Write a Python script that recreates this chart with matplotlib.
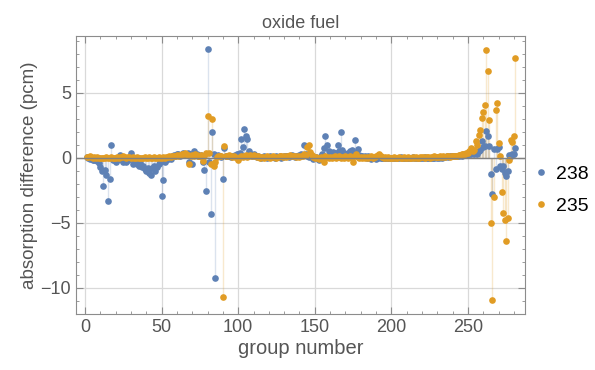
import numpy as np
import matplotlib
matplotlib.use('Agg')
import matplotlib.pyplot as plt
from matplotlib.ticker import MultipleLocator

plt.rcParams['font.family'] = ['Liberation Sans', 'DejaVu Sans']

# absorption difference (pcm) per group, groups 1..281
u238 = [
    0.05, -0.05, -0.1, -0.05, -0.15, -0.2, -0.1, -0.25, -0.4, -0.7,
    -1.05, -2.2, -0.92, -1.36, -3.3, -1.6, 1.0, -0.2, -0.1, -0.3,
    -0.15, -0.05, 0.2, -0.2, -0.3, -0.1, -0.35, -0.2, -0.05, 0.36,
    -0.5, -0.2, -0.3, -0.45, -0.6, -0.4, -0.7, -0.6, -0.9, -1.0,
    -0.8, -1.2, -1.36, -0.8, -0.6, -1.0, -0.7, -0.5, -0.3, -2.97,
    -1.7, -0.3, -0.2, -0.1, 0.05, -0.1, 0.1, 0.2, 0.1, 0.25,
    0.3, 0.15, 0.2, 0.4, 0.3, 0.2, 0.35, -0.3, 0.3, -0.5,
    0.5, 0.2, 0.3, 0.1, 0.15, 0.2, -0.3, -0.92, -2.54, 8.4,
    -0.3, -4.33, 2.0, 0.3, -9.23, 0.1, 0.2, 0.1, 0.05, -1.64,
    0.74, 0.1, 0.15, 0.1, 0.05, 0.1, 0.15, 0.2, 0.25, 0.3,
    0.38, 1.43, 0.8, 2.2, 1.7, 1.43, 0.5, 0.3, 0.15, 0.3,
    0.1, 0.05, 0.1, 0.05, 0.0, 0.05, 0.1, 0.05, 0.0, 0.05,
    0.1, 0.05, 0.05, 0.0, 0.1, 0.05, 0.1, 0.0, 0.05, 0.1,
    0.15, 0.1, 0.05, 0.1, 0.2, 0.1, 0.05, 0.1, 0.15, 0.2,
    0.3, 0.2, 1.0, 0.3, 0.1, 0.05, 0.1, 0.05, -0.1, -0.05,
    0.05, -0.1, -0.15, 0.1, 0.3, 0.74, 1.69, 1.0, 0.5, 0.3,
    0.2, 0.45, 0.3, 0.4, 0.95, 0.5, 1.95, 0.6, 0.4, 0.3,
    0.2, 0.4, 0.5, 0.6, 0.3, 1.38, 0.4, 0.65, 0.2, 0.15,
    0.1, 0.05, 0.1, -0.05, 0.1, 0.05, -0.1, 0.0, -0.05, -0.1,
    0.0, 0.05, -0.05, 0.0, -0.05, 0.0, 0.0, -0.05, 0.0, 0.0,
    0.0, 0.0, -0.05, 0.0, 0.0, 0.05, 0.0, 0.0, 0.0, -0.05,
    0.0, 0.0, 0.0, 0.05, 0.0, 0.0, -0.05, 0.0, 0.0, 0.0,
    0.0, 0.05, 0.0, 0.0, 0.0, -0.05, 0.0, 0.0, 0.05, 0.0,
    0.0, 0.05, 0.0, 0.05, 0.05, 0.1, 0.05, 0.1, 0.1, 0.15,
    0.1, 0.15, 0.1, 0.15, 0.2, 0.15, 0.2, 0.2, 0.25, 0.3,
    0.25, 0.3, 0.35, 0.3, 0.4, 0.3, 0.5, 0.6, 1.26, 0.8,
    0.87, 2.08, 1.69, 0.92, -1.23, -2.8, 0.7, -0.87, 0.7, 0.8,
    -0.6, -0.9, -0.6, -1.18, -1.44, -1.0, 0.2, 0.15, 0.3, 0.25,
    0.74,
]

u235 = [
    0.05, 0.05, 0.1, 0.05, 0.0, 0.05, 0.0, 0.05, 0.0, 0.0,
    0.0, -0.05, 0.0, 0.05, 0.0, 0.0, 0.05, 0.0, -0.05, 0.0,
    0.05, 0.0, 0.05, 0.05, 0.1, 0.05, 0.0, 0.05, 0.05, 0.0,
    0.05, 0.0, 0.0, 0.05, 0.0, -0.05, 0.0, 0.0, 0.05, 0.0,
    0.0, 0.05, 0.0, 0.0, 0.05, 0.0, 0.0, 0.05, 0.0, 0.0,
    0.05, 0.0, 0.05, 0.05, 0.1, 0.05, 0.1, 0.1, 0.15, 0.2,
    0.1, 0.2, 0.3, 0.25, 0.4, 0.3, 0.2, -0.5, 0.15, 0.2,
    0.1, 0.3, 0.2, 0.15, 0.1, 0.2, -0.28, 0.1, 0.4, 3.23,
    0.4, -0.5, 2.97, -0.6, -0.3, 0.05, 0.1, 0.15, 0.1, -10.7,
    0.87, 0.1, 0.15, 0.2, 0.1, 0.05, 0.1, 0.05, 0.0, -0.2,
    0.05, 0.1, 0.05, 0.1, 0.2, 0.05, 0.1, 0.2, 0.1, 0.2,
    0.1, 0.05, 0.1, 0.0, 0.05, 0.05, 0.0, 0.05, 0.1, 0.05,
    0.0, 0.05, 0.1, 0.05, 0.0, 0.05, 0.1, 0.15, 0.05, 0.1,
    0.05, 0.1, 0.15, 0.2, 0.1, 0.15, 0.1, 0.05, 0.1, 0.05,
    0.1, 0.15, 0.3, 0.2, 0.85, 1.0, 0.45, 0.2, 0.05, 0.0,
    0.05, 0.0, -0.1, 0.05, 0.0, -0.3, 0.1, 0.05, 0.0, 0.05,
    0.0, 0.05, 0.1, 0.0, 0.05, 0.1, 0.0, 0.05, 0.0, 0.1,
    0.05, 0.0, 0.1, 0.05, -0.3, 0.1, 0.3, 0.05, 0.0, 0.05,
    0.0, 0.05, 0.0, 0.05, 0.0, 0.05, 0.1, 0.0, 0.05, 0.1,
    0.2, 0.3, 0.1, 0.05, 0.0, 0.05, 0.0, 0.05, 0.0, 0.0,
    0.0, 0.05, 0.0, 0.0, 0.05, 0.0, 0.0, 0.05, 0.0, 0.0,
    0.05, 0.0, 0.0, 0.05, 0.0, 0.05, 0.0, 0.0, 0.05, 0.05,
    0.05, 0.0, 0.05, 0.05, 0.0, 0.05, 0.05, 0.1, 0.05, 0.05,
    0.05, 0.1, 0.05, 0.1, 0.05, 0.1, 0.1, 0.05, 0.1, 0.1,
    0.1, 0.15, 0.1, 0.2, 0.2, 0.25, 0.3, 0.3, 0.35, 0.4,
    0.5, 0.74, 0.5, 0.6, 1.31, 1.0, 1.77, 2.15, 3.08, 3.49,
    4.05, 8.26, 6.64, 2.87, -5.03, -10.97, -3.03, 3.69, 4.2, 1.13,
    0.15, -2.67, -4.28, -4.77, -6.44, -4.64, -0.2, 1.38, 1.18, 1.69,
    7.69,
]

series_names = ['238', '235']
series_vals = [u238, u235]
series_colors = ['#5E81B5', '#E19C24']

fig = plt.figure(figsize=(5.95, 3.7), dpi=100)
ax = fig.add_axes([0.1277, 0.1505, 0.7553, 0.7515])

for name, vals, col in zip(series_names, series_vals, series_colors):
    g = np.arange(1, len(vals) + 1)
    ax.vlines(g, 0, vals, color=col, alpha=0.22, lw=1.0, zorder=2)
    ax.plot(g, vals, 'o', color=col, ms=4.8, mec='none', label=name, zorder=3)

ax.axhline(0, color='#808080', lw=1.0, zorder=4)

ax.set_xlim(-5.9, 287.5)
ax.set_ylim(-12.05, 9.35)
ax.xaxis.set_major_locator(MultipleLocator(50))
ax.xaxis.set_minor_locator(MultipleLocator(10))
ax.yaxis.set_major_locator(MultipleLocator(5))
ax.yaxis.set_minor_locator(MultipleLocator(1))
ax.grid(True, which='major', color='#d9d9d9', lw=0.9, zorder=0)
ax.set_axisbelow(True)

ax.tick_params(which='both', direction='in', top=True, right=True,
               color='#8c8c8c', labelcolor='#555555', labelsize=13)
ax.tick_params(which='major', length=5, width=0.8)
ax.tick_params(which='minor', length=2.5, width=0.6)
ax.set_yticks([-10, -5, 0, 5])
ax.set_yticklabels(['\u221210', '\u22125', '0', '5'])
for s in ax.spines.values():
    s.set_color('#8c8c8c')

ax.set_title('oxide fuel', color='#555555', fontsize=13, pad=6)
ax.set_xlabel('group number', color='#555555', fontsize=14.5, labelpad=2)
ax.set_ylabel('absorption difference (pcm)', color='#555555', fontsize=13.5, labelpad=2)

leg = fig.legend(loc='center left', bbox_to_anchor=(0.893, 0.486), frameon=False,
                 fontsize=14, handletextpad=0.25, markerscale=1.0,
                 labelspacing=0.75, handlelength=1.0, borderpad=0, borderaxespad=0)

fig.savefig('out.png', dpi=100)
